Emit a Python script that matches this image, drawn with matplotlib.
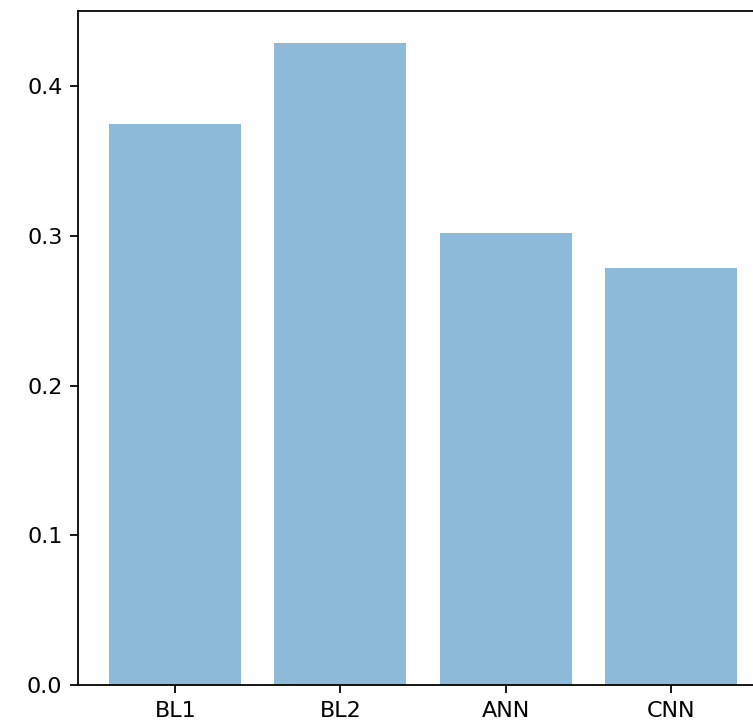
import matplotlib
matplotlib.use('Agg')
import matplotlib.pyplot as plt
import numpy as np

models = ['BL1', 'BL2', 'ANN', 'CNN']
scores = [0.3747, 0.4288, 0.3019, 0.2786]

dpi = 160
fig = plt.figure(figsize=(753 / dpi, 726 / dpi), dpi=dpi)
# axes runs past the right edge of the figure, like the cropped original
ax = fig.add_axes([78 / 753, 41 / 726, 690 / 753, 674 / 726])

x = np.arange(len(models))
ax.bar(x, scores, align='center', alpha=0.5)
ax.set_xticks(x)
ax.set_xticklabels(models)
ax.set_yticks([0.0, 0.1, 0.2, 0.3, 0.4])
ax.spines['right'].set_visible(False)

fig.savefig('out.png', dpi=dpi)
